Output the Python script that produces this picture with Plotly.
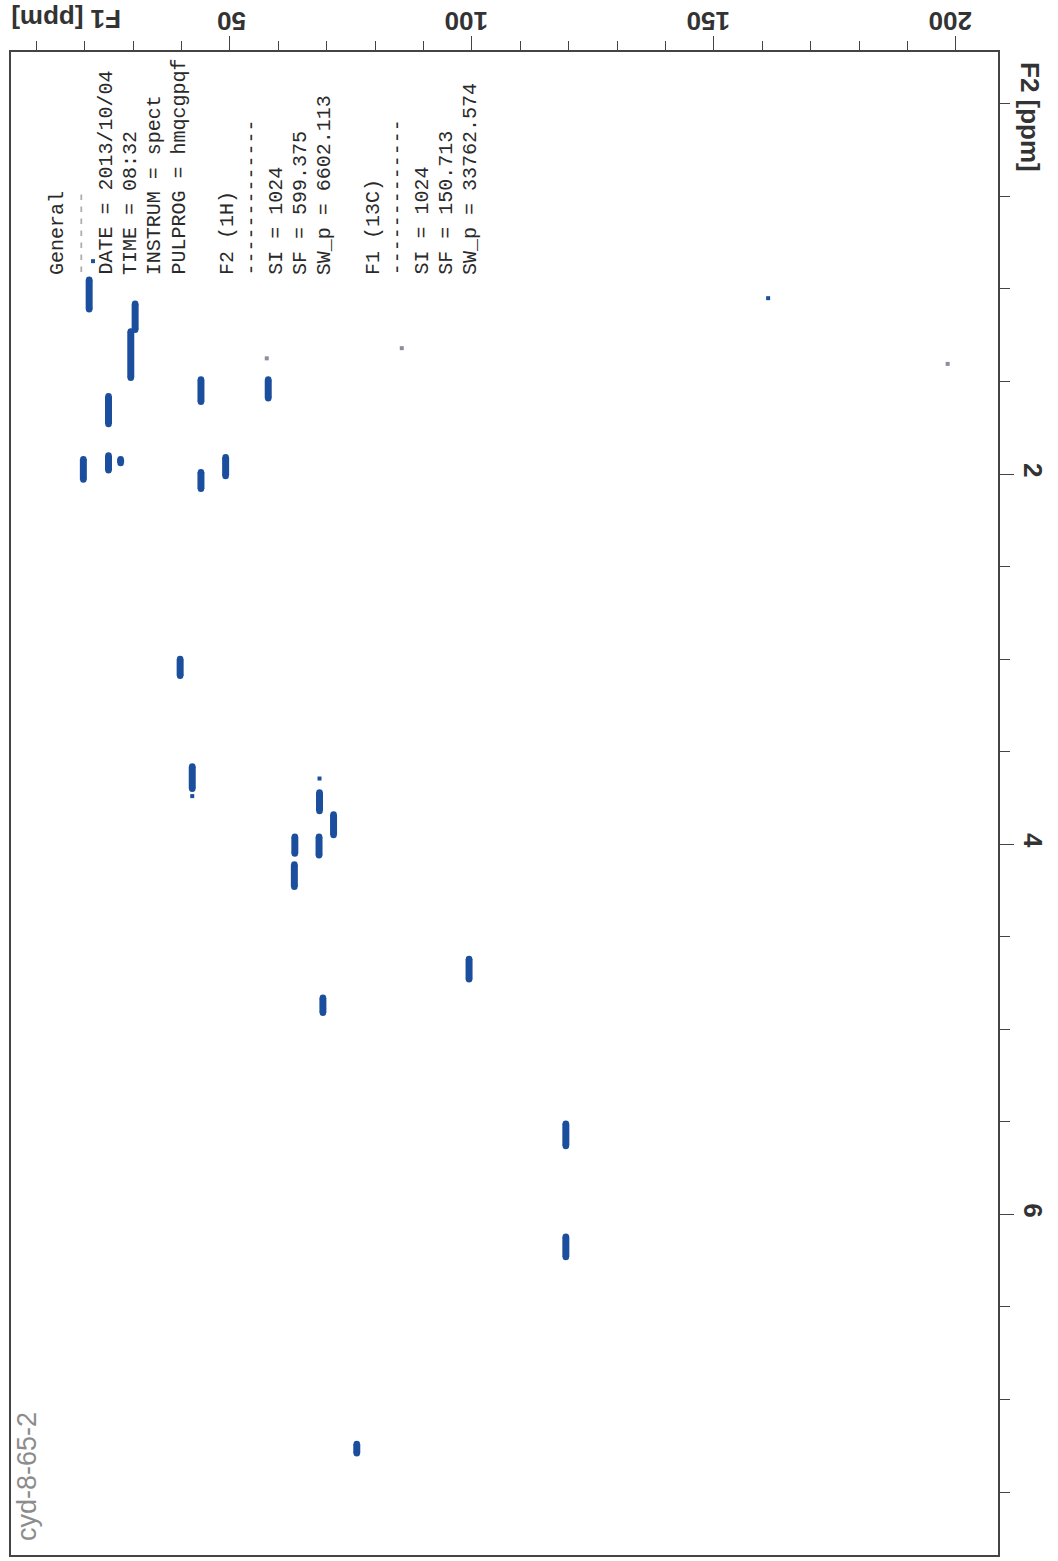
import plotly.graph_objects as go

# HSQC cross peaks: F1 (13C, ppm) and F2 (1H, ppm) extent of each contour blob
peak_f1 = [20.9, 30.4, 29.5, 44.0, 57.9, 24.9, 19.7, 24.9, 27.4, 44.0, 49.1,
           39.7, 42.2, 68.5, 71.4, 63.4, 68.4, 63.3, 99.4, 69.2, 119.4, 119.4, 76.2]
peak_f2_start = [0.95, 1.08, 1.23, 1.49, 1.49, 1.58, 1.92, 1.90, 1.92, 1.99, 1.91,
                 3.00, 3.58, 3.72, 3.84, 3.96, 3.96, 4.11, 4.62, 4.83, 5.51, 6.12, 7.24]
peak_f2_end = [1.11, 1.22, 1.48, 1.61, 1.59, 1.73, 2.03, 1.98, 1.94, 2.08, 2.01,
               3.09, 3.70, 3.82, 3.95, 4.05, 4.06, 4.23, 4.73, 4.91, 5.63, 6.23, 7.29]

# tiny blue specks
small_f1 = [21.7, 161.2, 68.5, 42.2]
small_f2 = [0.85, 1.05, 3.645, 3.74]

# faint grey specks
faint_f1 = [57.6, 198.3, 85.5]
faint_f2 = [1.375, 1.405, 1.32]

param_lines = [
    "General", "-------", "DATE = 2013/10/04", "TIME = 08:32", "INSTRUM = spect",
    "PULPROG = hmqcgpqf", "", "F2 (1H)", "-------------", "SI = 1024", "SF = 599.375",
    "SW_p = 6602.113", "", "F1 (13C)", "-------------", "SI = 1024", "SF = 150.713",
    "SW_p = 33762.574",
]

f1_ticks = [50, 100, 150, 200]
f2_ticks = [2, 4, 6]

blue = "#1b4f9e"

fig = go.Figure()

xs, ys = [], []
for f1, a, b in zip(peak_f1, peak_f2_start, peak_f2_end):
    xs += [f1, f1, None]
    ys += [a, b, None]
fig.add_trace(go.Scatter(x=xs, y=ys, mode="lines+markers", line=dict(color=blue, width=7),
                         marker=dict(color=blue, size=6.5), hoverinfo="skip"))
fig.add_trace(go.Scatter(x=small_f1, y=small_f2, mode="markers",
                         marker=dict(color=blue, size=4, symbol="square"), hoverinfo="skip"))
fig.add_trace(go.Scatter(x=faint_f1, y=faint_f2, mode="markers",
                         marker=dict(color="#8a8f9c", size=4, symbol="square"), hoverinfo="skip"))

W, H = 1058, 1561
L, R, T, B = 11, 998, 52, 1555


def px(x):
    return (x - L) / (R - L)


def py(y):
    return (B - y) / (B - T)


annotations = []
for i, line in enumerate(param_lines):
    if not line:
        continue
    annotations.append(dict(
        text=line, xref="paper", yref="paper", x=px(58 + 24.3 * i), y=py(277),
        xanchor="center", yanchor="bottom", textangle=-90, showarrow=False,
        font=dict(family="Liberation Mono", size=20,
                  color="#aaaaaa" if i == 1 else "#2a2a2a"),
    ))

axis_font = dict(family="Liberation Sans", size=26, color="#333", weight="bold")
annotations += [
    dict(text="F1 [ppm]", xref="paper", yref="paper", x=px(66), y=py(19), textangle=180,
         xanchor="center", yanchor="middle", showarrow=False, font=axis_font),
    dict(text="F2 [ppm]", xref="paper", yref="paper", x=px(1030), y=py(117), textangle=90,
         xanchor="center", yanchor="middle", showarrow=False, font=axis_font),
    dict(text="cyd-8-65-2", xref="paper", yref="paper", x=px(27), y=py(1477), textangle=-90,
         xanchor="center", yanchor="middle", showarrow=False,
         font=dict(family="Liberation Sans", size=27, color="#8c8c8c")),
]

fig.update_layout(
    width=W, height=H,
    margin=dict(l=L, r=W - R, t=T, b=H - B),
    paper_bgcolor="white", plot_bgcolor="white",
    showlegend=False,
    annotations=annotations,
    xaxis=dict(
        side="top", range=[4.75, 208.7], tickvals=f1_ticks, tickangle=180,
        ticks="outside", ticklen=14, tickcolor="#444", tickwidth=1.3,
        minor=dict(dtick=10, tick0=0, ticks="outside", ticklen=9, tickcolor="#444", tickwidth=1.3),
        tickfont=axis_font, automargin=False, ticklabelstandoff=-12, ticklabelshift=16,
        showline=True, linecolor="#444", linewidth=1.5, mirror=True,
        showgrid=False, zeroline=False,
    ),
    yaxis=dict(
        side="right", range=[7.84, -0.28], tickvals=f2_ticks, tickangle=90,
        ticks="outside", ticklen=14, tickcolor="#444", tickwidth=1.3,
        minor=dict(dtick=0.5, tick0=0, ticks="outside", ticklen=10, tickcolor="#444", tickwidth=1.3),
        tickfont=axis_font, automargin=False,
        showline=True, linecolor="#444", linewidth=1.5, mirror=True,
        showgrid=False, zeroline=False,
    ),
)

fig.write_html("out.html", config={"displayModeBar": False},
               post_script="document.body.style.margin='0';")
